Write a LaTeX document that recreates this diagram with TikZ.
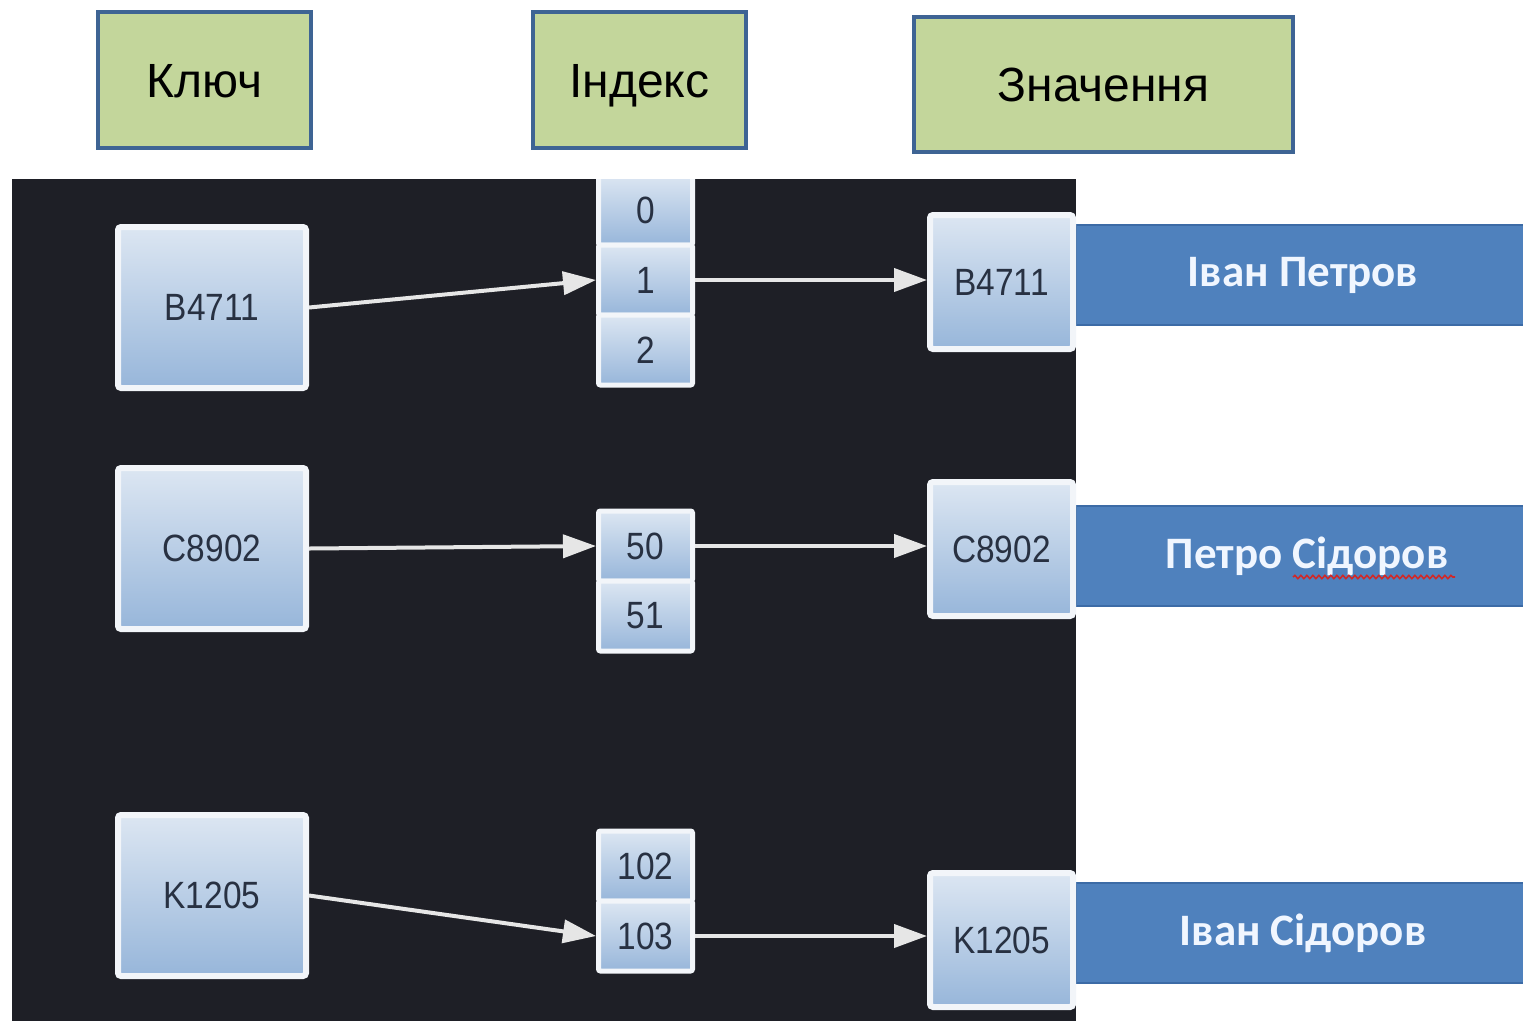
\documentclass[tikz,border=0pt]{standalone}
\usepackage{fontspec}
\setmainfont{Liberation Sans}
\newfontfamily\narrowfont[FakeStretch=0.88]{Liberation Sans}
\newfontfamily\barfont{Carlito}
\usetikzlibrary{arrows.meta,decorations.pathmorphing}
\definecolor{panel}{HTML}{1E1F26}
\definecolor{hdrgreen}{HTML}{C3D69B}
\definecolor{hdrborder}{HTML}{3E6494}
\definecolor{gtop}{HTML}{DCE6F2}
\definecolor{gbot}{HTML}{97B6DA}
\definecolor{boxwhite}{HTML}{F2F5F9}
\definecolor{keytext}{HTML}{283142}
\definecolor{barblue}{HTML}{4F81BD}
\definecolor{barborder}{HTML}{3C6BA6}
\definecolor{bartext}{HTML}{F0F6FF}
\definecolor{arrowc}{HTML}{E6E6E6}
\definecolor{squiggle}{HTML}{D02828}
\tikzset{
  hdr/.style={draw=hdrborder, line width=3.5pt, fill=hdrgreen, inner sep=0pt,
    text height=34.4pt, text depth=0pt,
    font=\fontsize{48}{50}\selectfont, text=black},
  keybox/.style={draw=boxwhite, line width=6pt, rounded corners=3pt,
    top color=gtop, bottom color=gbot, minimum width=188pt, minimum height=161pt,
    inner sep=0pt, text=keytext, font=\narrowfont\fontsize{38}{40}\selectfont},
  valbox/.style={keybox, minimum width=143pt, minimum height=134pt},
  idxcell/.style={draw=boxwhite, line width=5pt, rounded corners=2pt,
    top color=gtop, bottom color=gbot, minimum width=94pt, minimum height=70pt,
    inner sep=0pt, text=keytext, font=\narrowfont\fontsize{38}{40}\selectfont},
  bar/.style={draw=barborder, line width=2pt, fill=barblue, minimum width=454pt,
    minimum height=100pt, inner sep=0pt, text=bartext,
    font=\barfont\bfseries\fontsize{45}{47}\selectfont},
  link/.style={draw=arrowc, line width=4pt,
    -{Triangle[length=33pt,width=23pt]}, shorten >=0pt}
}
\begin{document}
\begin{tikzpicture}[x=1pt,y=-1pt]
\useasboundingbox (0,0) rectangle (1523,1021);
\fill[white] (0,0) rectangle (1523,1021);
\fill[panel] (12,179) rectangle (1076,1021);

% header boxes
\node[hdr, minimum width=213pt, minimum height=136pt] (hkey) at (204.5,80) {Ключ};
\node[hdr, minimum width=213pt, minimum height=136pt] (hidx) at (639.5,80) {Індекс};
\node[hdr, minimum width=379pt, minimum height=135pt] (hval) at (1103.5,84.5) {Значення};

% key boxes
\node[keybox] (k1) at (212,307.5) {B4711};
\node[keybox] (k2) at (212,548.5) {C8902};
\node[keybox] (k3) at (212,895.5) {K1205};

% index cells
\begin{scope}
\clip (12,179) rectangle (1076,1021);
\node[idxcell] (i0) at (645.5,210) {0};
\end{scope}
\node[idxcell] (i1) at (645.5,280) {1};
\node[idxcell] (i2) at (645.5,350) {2};
\node[idxcell] (i50) at (645.5,546) {50};
\node[idxcell] (i51) at (645.5,616) {51};
\node[idxcell] (i102) at (645.5,866) {102};
\node[idxcell] (i103) at (645.5,936) {103};

% value bars
\node[bar] (b1) at (1303,275) {Іван Петров};
\node[bar] (b2) at (1303,556) {\hspace*{8pt}Петро Сідоров};
\node[bar] (b3) at (1303,933) {Іван Сідоров};

% value key boxes
\node[valbox] (v1) at (1001.5,282) {B4711};
\node[valbox] (v2) at (1001.5,549) {C8902};
\node[valbox] (v3) at (1001.5,940) {K1205};

% spelling squiggle
\draw[squiggle, line width=1.6pt, decorate,
  decoration={snake, segment length=6pt, amplitude=1.6pt}]
  (1293,577) -- (1455,577);

% connectors
\draw[link] (k1.east) -- (i1.west);
\draw[link] (i1.east) -- (i1.east -| v1.west);
\draw[link] (k2.east) -- (i50.west);
\draw[link] (i50.east) -- (i50.east -| v2.west);
\draw[link] (k3.east) -- (i103.west);
\draw[link] (i103.east) -- (i103.east -| v3.west);
\end{tikzpicture}
\end{document}
